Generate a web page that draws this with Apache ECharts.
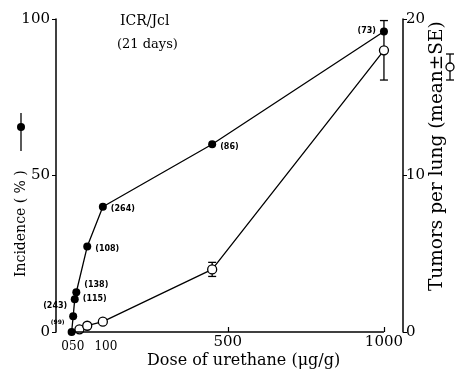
<!DOCTYPE html>
<html>
<head>
<meta charset="utf-8">
<script src="https://cdn.jsdelivr.net/npm/echarts@6/dist/echarts.min.js"></script>
<style>
  html, body { margin: 0; padding: 0; background: #fff; }
  #chart { width: 455px; height: 372px; }
</style>
</head>
<body>
<div id="chart"></div>
<script>
// incidence of lung tumors (filled circles, left axis)
const incidenceDoses = [0, 5, 10, 15, 50, 100, 450, 1000];
const incidence = [0, 5, 10.5, 12.7, 27.3, 40, 60, 96];
const mouseCounts = [99, 243, 115, 138, 108, 264, 86, 73];

// tumors per lung (open circles, right axis)
const tumorDoses = [25, 50, 100, 450, 1000];
const tumors = [0.17, 0.4, 0.66, 4.0, 18.0];
const tumorSE = [0, 0, 0, 0.45, 1.9];

const doseTicks = [500, 1000];
const doseLabels = [0, 100, 500, 1000];
const doseLabelsCrowded = [50]; // sits on its own axis so it isn't dropped next to "0"

const SERIF = 'DejaVu Serif';

// where each (n) label sits relative to its point
const countLabelPlace = [
  { position: 'left', offset: [1, -10], fontSize: 6 },
  { position: 'left', offset: [2, -10] },
  { position: 'right', offset: [0, 0] },
  { position: 'right', offset: [0, -7] },
  { position: 'right', offset: [0, 2] },
  { position: 'right', offset: [0, 2] },
  { position: 'right', offset: [0, 3] },
  { position: 'left', offset: [0, -1] }
];

const chart = echarts.init(document.getElementById('chart'));

const incidenceData = incidenceDoses.map((d, i) => ({
  value: [d, incidence[i]],
  label: Object.assign({ show: true, formatter: '(' + mouseCounts[i] + ')' }, countLabelPlace[i])
}));

const errorData = tumorDoses
  .map((d, i) => [d, tumors[i] - tumorSE[i], tumors[i] + tumorSE[i], tumorSE[i]])
  .filter(r => r[3] > 0);

const smallRich = {
  s: { fontFamily: SERIF, fontSize: 12, padding: [6, 0, 0, 0] },
  g1: { width: 13, fontSize: 12 },
  g2: { width: 21, fontSize: 12 },
  g3: { width: 6, fontSize: 12 }
};

const option = {
  backgroundColor: '#fff',
  animation: false,
  grid: { left: 56, right: 52, top: 19, bottom: 40 },
  xAxis: [
    {
      type: 'value',
      position: 'bottom',
      min: -50,
      max: 1061,
      axisLine: { show: false },
      splitLine: { show: false },
      axisTick: {
        show: true, inside: true, length: 5,
        customValues: doseTicks,
        lineStyle: { color: '#000', width: 1.2 }
      },
      axisLabel: {
        customValues: doseLabels,
        hideOverlap: false,
        showMinLabel: true,
        color: '#000',
        fontFamily: SERIF,
        fontSize: 15,
        margin: 3,
        formatter: v => v === 0 ? '{s|0}{g1| }' : v === 100 ? '{g3| }{s|100}' : String(v),
        rich: smallRich
      }
    },
    {
      type: 'value',
      position: 'bottom',
      min: -50,
      max: 1061,
      axisLine: { show: false },
      splitLine: { show: false },
      axisTick: { show: false },
      axisLabel: {
        customValues: doseLabelsCrowded,
        hideOverlap: false,
        color: '#000',
        fontFamily: SERIF,
        fontSize: 12,
        margin: 3,
        formatter: v => '{s|' + v + '}{g2| }',
        rich: smallRich
      }
    }
  ],
  yAxis: [
    {
      type: 'value',
      min: 0, max: 100, interval: 50,
      position: 'left',
      axisLine: { show: true, onZero: false, lineStyle: { color: '#000', width: 1.5 } },
      axisTick: { show: true, length: 4, lineStyle: { color: '#000' } },
      splitLine: { show: false },
      axisLabel: { color: '#000', fontFamily: SERIF, fontSize: 15, margin: 6 }
    },
    {
      type: 'value',
      min: 0, max: 20, interval: 10,
      position: 'right',
      axisLine: { show: true, onZero: false, lineStyle: { color: '#000', width: 1.5 } },
      axisTick: { show: true, length: 4, lineStyle: { color: '#000' } },
      splitLine: { show: false },
      axisLabel: { color: '#000', fontFamily: SERIF, fontSize: 15, margin: 3 }
    }
  ],
  series: [
    {
      name: 'Tumors per lung',
      type: 'line',
      xAxisIndex: 0,
      yAxisIndex: 1,
      data: tumorDoses.map((d, i) => [d, tumors[i]]),
      symbol: 'circle',
      symbolSize: 9,
      showAllSymbol: true,
      itemStyle: { color: '#fff', borderColor: '#000', borderWidth: 1.3 },
      lineStyle: { color: '#000', width: 1.3 },
      z: 3
    },
    {
      name: 'SE',
      type: 'custom',
      xAxisIndex: 0,
      yAxisIndex: 1,
      data: errorData,
      renderItem: (params, api) => {
        const lo = api.coord([api.value(0), api.value(1)]);
        const hi = api.coord([api.value(0), api.value(2)]);
        const w = 4;
        const st = { stroke: '#000', lineWidth: 1.3 };
        return {
          type: 'group',
          children: [
            { type: 'line', shape: { x1: lo[0], y1: lo[1], x2: hi[0], y2: hi[1] }, style: st },
            { type: 'line', shape: { x1: lo[0] - w, y1: lo[1], x2: lo[0] + w, y2: lo[1] }, style: st },
            { type: 'line', shape: { x1: hi[0] - w, y1: hi[1], x2: hi[0] + w, y2: hi[1] }, style: st }
          ]
        };
      },
      z: 2
    },
    {
      name: 'Incidence',
      type: 'line',
      xAxisIndex: 0,
      yAxisIndex: 0,
      data: incidenceData,
      symbol: 'circle',
      symbolSize: 8,
      showAllSymbol: true,
      itemStyle: { color: '#000' },
      lineStyle: { color: '#000', width: 1.3 },
      label: {
        color: '#000',
        fontFamily: 'DejaVu Sans',
        fontWeight: 'bold',
        fontSize: 8,
        distance: 4
      },
      markLine: {
        silent: true,
        symbol: 'none',
        label: { show: false },
        lineStyle: { color: '#000', width: 1.5, type: 'solid' },
        data: [[{ coord: [0, 0] }, { coord: [1000, 0] }]]
      },
      z: 4
    }
  ],
  graphic: [
    { type: 'text', left: 120, top: 14, style: { text: 'ICR/Jcl', font: '14px "DejaVu Serif"', fill: '#000' } },
    { type: 'text', left: 117, top: 38, style: { text: '(21 days)', font: '13px "DejaVu Serif"', fill: '#000' } },
    {
      type: 'text', x: 14, y: 277, rotation: Math.PI / 2,
      style: { text: 'Incidence ( % )', font: '14px "DejaVu Serif"', fill: '#000' }
    },
    { type: 'line', shape: { x1: 21, y1: 113, x2: 21, y2: 151 }, style: { stroke: '#000', lineWidth: 1.3 } },
    { type: 'circle', shape: { cx: 21, cy: 127, r: 4 }, style: { fill: '#000' } },
    {
      type: 'text', x: 428, y: 291, rotation: Math.PI / 2,
      style: { text: 'Tumors per lung (mean\u00b1SE)', font: '18.5px "DejaVu Serif"', fill: '#000' }
    },
    { type: 'line', shape: { x1: 450, y1: 54, x2: 450, y2: 80 }, style: { stroke: '#000', lineWidth: 1.3 } },
    { type: 'line', shape: { x1: 446, y1: 54, x2: 454, y2: 54 }, style: { stroke: '#000', lineWidth: 1.3 } },
    { type: 'line', shape: { x1: 446, y1: 80, x2: 454, y2: 80 }, style: { stroke: '#000', lineWidth: 1.3 } },
    { type: 'circle', shape: { cx: 450, cy: 67, r: 4 }, style: { fill: '#fff', stroke: '#000', lineWidth: 1.3 } },
    {
      type: 'text', left: 147, top: 353,
      style: { text: 'Dose of urethane (\u03bcg/g)', font: '16px "DejaVu Serif"', fill: '#000' }
    }
  ]
};

chart.setOption(option);
</script>
</body>
</html>
